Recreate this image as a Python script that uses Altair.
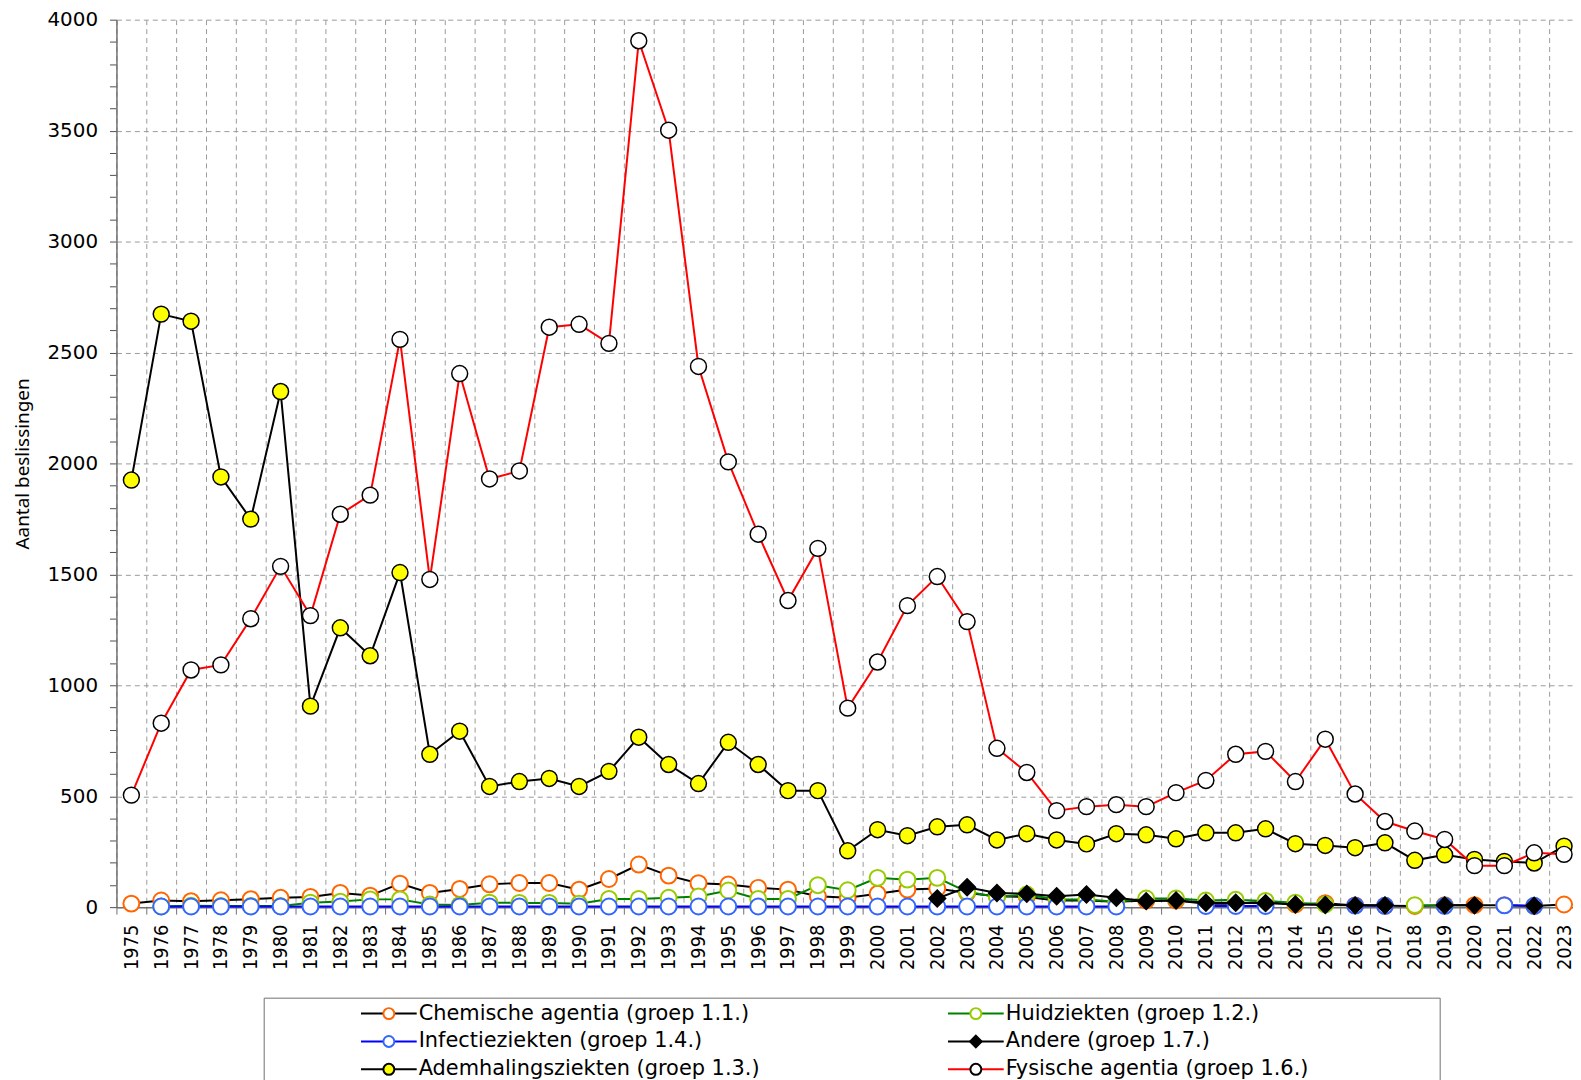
import altair as alt
import pandas as pd

N = None
years = [str(y) for y in range(1975, 2024)]

# legend order (column-major, 3 rows x 2 columns)
legend_order = [
    "Chemische agentia (groep 1.1.)",
    "Infectieziekten (groep 1.4.)",
    "Ademhalingsziekten (groep 1.3.)",
    "Huidziekten (groep 1.2.)",
    "Andere (groep 1.7.)",
    "Fysische agentia (groep 1.6.)",
]

chemische = [16, 30, 27, 31, 36, 42, 46, 64, 52, 106,
             64, 82, 103, 109, 109, 79, 127, 192, 142, 108,
             102, 87, 79, 49, 42, 60, 79, 84, 64, 49,
             46, 30, 30, 24, 30, 30, 15, 15, 25, 12,
             18, 8, 6, 5, 9, 9, 9, 5, 12]
huid = [N, 3, 6, 5, 5, 5, 20, 25, 35, 35,
        12, 10, 20, 19, 19, 15, 37, 37, 42, 48,
        75, 37, 37, 99, 76, 132, 124, 132, 69, 46,
        57, 34, 34, 24, 39, 39, 30, 33, 28, 20,
        12, N, N, 9, 7, N, N, N, N]
infectie = [N, 3, 3, 3, 3, 3, 3, 3, 3, 3,
            3, 3, 3, 3, 3, 3, 3, 3, 3, 3,
            3, 3, 3, 3, 3, 3, 3, 3, 3, 3,
            3, 3, 3, 3, N, N, 5, 5, 5, N,
            N, 7, 6, N, 6, N, 8, 6, N]
ademhaling = [1925, 2673, 2641, 1939, 1749, 2324, 906, 1259, 1133, 1508,
              689, 793, 544, 566, 580, 544, 612, 766, 643, 557,
              743, 643, 525, 525, 254, 349, 322, 362, 371, 303,
              331, 303, 285, 331, 326, 308, 335, 335, 353, 286,
              278, 268, 290, 211, 236, 215, 206, 199, 275]
andere = [N, N, N, N, N, N, N, N, N, N,
          N, N, N, N, N, N, N, N, N, N,
          N, N, N, N, N, N, N, 39, 90, 64,
          60, 49, 57, 42, 27, 30, 20, 20, 18, 12,
          10, 8, 8, N, 8, 8, N, 6, N]
fysische = [505, 829, 1069, 1092, 1300, 1536, 1314, 1771, 1857, 2559,
            1477, 2405, 1930, 1966, 2614, 2627, 2541, 3905, 3502, 2437,
            2007, 1681, 1382, 1617, 897, 1105, 1359, 1490, 1287, 716,
            607, 435, 453, 462, 453, 516, 571, 689, 702, 566,
            757, 510, 386, 343, 305, 187, 187, 245, 238]

values_by_series = {
    "Chemische agentia (groep 1.1.)": chemische,
    "Huidziekten (groep 1.2.)": huid,
    "Infectieziekten (groep 1.4.)": infectie,
    "Ademhalingsziekten (groep 1.3.)": ademhaling,
    "Andere (groep 1.7.)": andere,
    "Fysische agentia (groep 1.6.)": fysische,
}
draw_order = ["Chemische agentia (groep 1.1.)", "Huidziekten (groep 1.2.)",
              "Infectieziekten (groep 1.4.)", "Ademhalingsziekten (groep 1.3.)",
              "Andere (groep 1.7.)", "Fysische agentia (groep 1.6.)"]

# styles, in legend order
line_colors = ["#000000", "#0000FF", "#000000", "#008000", "#000000", "#FF0000"]
marker_stroke = ["#FF6600", "#3366FF", "#000000", "#99CC00", "#000000", "#000000"]
marker_fill = ["#FFFFFF", "#FFFFFF", "#FFFF00", "#FFFFFF", "#000000", "#FFFFFF"]
EXT = "M -2.8 0 L -2.8 0 M 2.8 0 L 2.8 0 "  # invisible extent, same as line symbol
R = 0.55
circle = EXT + f"M -{R} 0 A {R} {R} 0 1 1 {R} 0 A {R} {R} 0 1 1 -{R} 0 Z"
D = 0.58
diamond = EXT + f"M 0 -{D} L {D} 0 L 0 {D} L -{D} 0 Z"
marker_shape = [circle, circle, circle, circle, diamond, circle]
line_symbol = "M -2.8 0 L 2.8 0"

ZW = "\u200b"
rows = []
for name in draw_order:
    for yr, v in zip(years, values_by_series[name]):
        rows.append({"year": yr, "series": name, "serie_p": name + ZW, "value": v})
df = pd.DataFrame(rows)

FONT_LEG = "DejaVu Sans"
LEG_FS = 21
LX, LY = 148, 983
SYM = 400

common_leg = dict(
    orient="none", legendX=LX, legendY=LY, columns=2,
    title="0000000", titleOrient="left", titleColor="transparent",
    titleFont=FONT_LEG, titleFontSize=LEG_FS, titlePadding=6.8, titleLimit=0,
    labelFont=FONT_LEG, labelFontSize=LEG_FS, labelLimit=0, labelOffset=19,
    symbolSize=SYM, symbolStrokeWidth=2, columnPadding=185, rowPadding=7,
    padding=5,
)

line_legend = alt.Legend(symbolType=line_symbol, labelColor="black", **common_leg)
point_legend = alt.Legend(
    labelColor="transparent", strokeColor="#707070",
    labelExpr="(indexof(datum.label, 'Huid') >= 0 || indexof(datum.label, 'Andere') >= 0 || indexof(datum.label, 'Fysische') >= 0) ? datum.label + '000000000l' : datum.label",
    symbolOpacity=1, **common_leg)

PLOT_W = 1464      # visible part of the plot area (page is cut at the right)
BAND_RANGE = 1470  # 49 bands of 30 px, last one partly outside the page

x_enc = alt.X(
    "year:O",
    scale=alt.Scale(type="band", domain=years, range=[0, BAND_RANGE],
                    paddingInner=0, paddingOuter=0),
    bandPosition=0.5,
    axis=alt.Axis(
        tickBand="extent", labelAngle=270, labelFont="DejaVu Sans Condensed",
        labelFontSize=20, labelColor="black", labelPadding=10, tickSize=7,
        tickColor="#707070", domainColor="#707070", domainWidth=1.5,
        grid=True, gridDash=[5, 4], gridColor="#9a9a9a", labelOverlap=False,
    ),
    title=None,
)
y_enc = alt.Y(
    "value:Q",
    scale=alt.Scale(domain=[0, 4000], nice=False),
    axis=alt.Axis(
        values=list(range(0, 4001, 100)), format="d",
        labelExpr="datum.value % 500 === 0 ? datum.label : ''",
        labelFont="DejaVu Sans", labelFontSize=20, labelColor="black",
        labelPadding=12, tickSize=7, tickColor="#505050",
        domainColor="#707070", domainWidth=1.5, labelOverlap=False,
        grid=True, gridDash=[5, 4], gridColor="#9a9a9a",
        gridOpacity={"condition": {"test": "datum.value % 500 === 0", "value": 1}, "value": 0},
        titleFont="Noto Sans", titleFontSize=19, titleFontWeight="normal",
        titleColor="black", titlePadding=14,
    ),
    title="Aantal beslissingen",
)

color_scale = alt.Scale(domain=legend_order, range=line_colors)
p_domain = [n + ZW for n in legend_order]
fill_scale = alt.Scale(domain=p_domain, range=marker_fill)
stroke_scale = alt.Scale(domain=p_domain, range=marker_stroke)
shape_scale = alt.Scale(domain=p_domain, range=marker_shape)

layers = []
for name in draw_order:
    colored = name.startswith(("Chemische", "Huid", "Infectie"))
    sw_pt = 2 if colored else 1.5
    base = alt.Chart().transform_filter(alt.datum.series == name)
    ln = base.mark_line(strokeWidth=2, opacity=1).encode(
        x=x_enc, y=y_enc,
        color=alt.Color("series:N", scale=color_scale, legend=line_legend),
    )
    pt = base.mark_point(filled=True, opacity=1, size=847, strokeWidth=sw_pt).encode(
        x=x_enc, y=y_enc,
        fill=alt.Fill("serie_p:N", scale=fill_scale, legend=point_legend),
        stroke=alt.Stroke("serie_p:N", scale=stroke_scale, legend=point_legend),
        shape=alt.Shape("serie_p:N", scale=shape_scale, legend=point_legend),
    )
    layers += [ln, pt]

chart = alt.layer(*layers, data=df).properties(
    width=PLOT_W, height=892,
    autosize=alt.AutoSizeParams(type="none"),
    padding={"left": 109, "top": 9, "right": 0, "bottom": 171},
).configure_view(strokeWidth=0)

chart.save("out.html", embed_options={"renderer": "svg", "actions": False})
